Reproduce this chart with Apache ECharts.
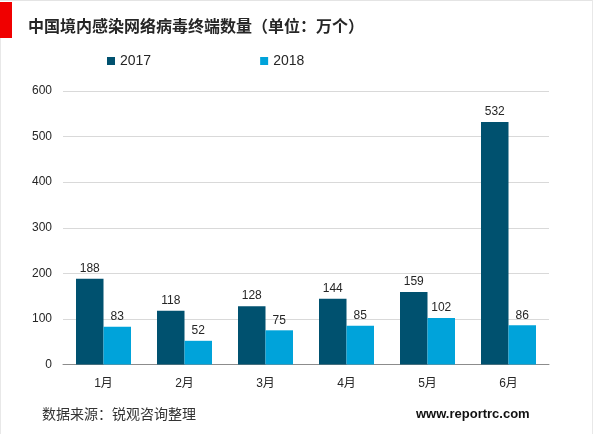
<!DOCTYPE html>
<html>

<head>
    <meta charset="utf-8">
    <title>中国境内感染网络病毒终端数量</title>
    <script src="https://cdn.jsdelivr.net/npm/echarts@6/dist/echarts.min.js"></script>
    <style>
        html, body { margin: 0; padding: 0; background: #fff; }
    </style>
</head>

<body>
    <div id="main" style="width: 600px;height:434px;"></div>

    <script type="text/javascript">

        var months = ['1月', '2月', '3月', '4月', '5月', '6月'];
        var values2017 = [188, 118, 128, 144, 159, 532];
        var values2018 = [83, 52, 75, 85, 102, 86];

        var FONT = '"Liberation Sans", "Noto Sans CJK SC", sans-serif';

        var chart = echarts.init(document.getElementById('main'));

        function barSeries(name, data, color) {
            return {
                name: name,
                type: 'bar',
                data: data,
                barWidth: 27.5,
                barGap: 0,
                itemStyle: { color: color },
                label: {
                    show: true,
                    position: 'top',
                    distance: 4,
                    color: '#262626',
                    fontSize: 12,
                    fontFamily: FONT
                }
            };
        }

        chart.setOption({
            animation: false,
            backgroundColor: '#fff',
            title: [{
                text: '中国境内感染网络病毒终端数量（单位：万个）',
                left: 28,
                top: 20,
                padding: 0,
                textStyle: { fontSize: 16, fontWeight: 'bold', color: '#262626', fontFamily: FONT }
            }, {
                text: '数据来源：锐观咨询整理',
                left: 42,
                top: 408,
                padding: 0,
                textStyle: { fontSize: 14, fontWeight: 'normal', color: '#333', fontFamily: FONT }
            }, {
                text: 'www.reportrc.com',
                left: 416,
                top: 408,
                padding: 0,
                textStyle: { fontSize: 13, fontWeight: 'bold', color: '#111', fontFamily: '"Liberation Sans", sans-serif' }
            }],
            legend: {
                top: 54,
                left: 107,
                padding: 0,
                itemWidth: 8,
                itemHeight: 8,
                itemGap: 109,
                icon: 'rect',
                textStyle: { fontSize: 14, color: '#262626', fontFamily: FONT, padding: [0, 0, 0, 0] },
                data: ['2017', '2018']
            },
            grid: { left: 63, right: 51, top: 91, bottom: 69.5 },
            xAxis: {
                type: 'category',
                data: months,
                axisLine: { lineStyle: { color: '#8c8c8c', width: 1 } },
                axisTick: { show: false },
                axisLabel: { color: '#262626', fontSize: 12, margin: 13, fontFamily: FONT }
            },
            yAxis: {
                type: 'value',
                min: 0,
                max: 600,
                interval: 100,
                axisLine: { show: false },
                axisTick: { show: false },
                axisLabel: { color: '#262626', fontSize: 12, margin: 11, fontFamily: FONT },
                splitLine: { lineStyle: { color: '#d9d9d9', width: 1 } }
            },
            series: [
                barSeries('2017', values2017, '#00516f'),
                barSeries('2018', values2018, '#00a3da')
            ],
            graphic: [
                // red marker beside the title
                { type: 'rect', shape: { x: 0, y: 2, width: 12, height: 36 }, style: { fill: '#f00000' } },
                // faint page frame
                { type: 'rect', shape: { x: 0, y: 0, width: 593, height: 1 }, style: { fill: '#e4e4e4' } },
                { type: 'rect', shape: { x: 0, y: 38, width: 1, height: 396 }, style: { fill: '#e8e8e8' } },
                { type: 'rect', shape: { x: 592, y: 0, width: 1, height: 434 }, style: { fill: '#e8e8e8' } }
            ]
        });

    </script>
</body>

</html>
